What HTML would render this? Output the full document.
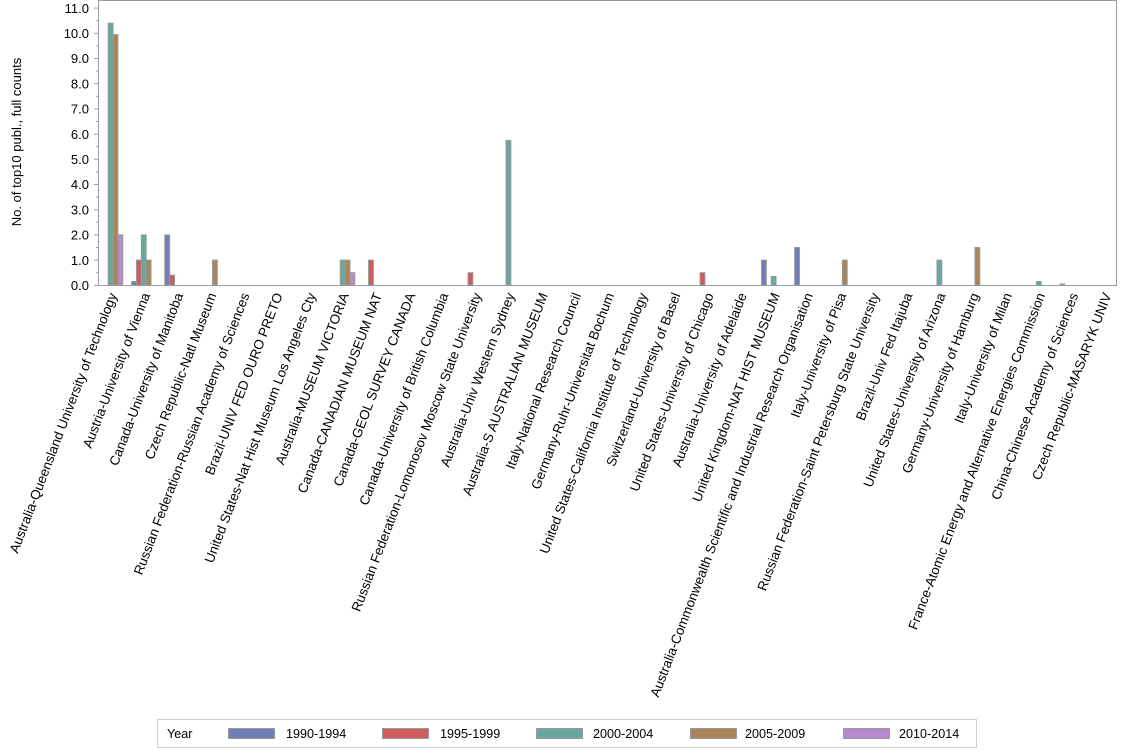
<!DOCTYPE html>
<html><head><meta charset="utf-8"><style>
body{margin:0;background:#fff}
svg{display:block;font-family:"Liberation Sans",Arial,sans-serif}
.t{font-size:13px;fill:#000}
.lg{font-size:12.6px;fill:#000}
.l text{font-size:13.4px;text-anchor:end}
rect.b{stroke:#9a9a9a;stroke-width:1}
</style></head><body>
<svg width="1134" height="756" viewBox="0 0 1134 756">
<rect x="98.5" y="0.5" width="1018" height="285" fill="#fff" stroke="#9a9ea4"/>
<g stroke="#9a9ea4">
<line x1="94" y1="285.3" x2="98.5" y2="285.3"/><line x1="94" y1="260.1" x2="98.5" y2="260.1"/><line x1="94" y1="234.9" x2="98.5" y2="234.9"/><line x1="94" y1="209.7" x2="98.5" y2="209.7"/><line x1="94" y1="184.5" x2="98.5" y2="184.5"/><line x1="94" y1="159.3" x2="98.5" y2="159.3"/><line x1="94" y1="134.1" x2="98.5" y2="134.1"/><line x1="94" y1="108.9" x2="98.5" y2="108.9"/><line x1="94" y1="83.7" x2="98.5" y2="83.7"/><line x1="94" y1="58.5" x2="98.5" y2="58.5"/><line x1="94" y1="33.3" x2="98.5" y2="33.3"/><line x1="94" y1="8.1" x2="98.5" y2="8.1"/>
<line x1="96" y1="272.7" x2="98.5" y2="272.7"/><line x1="96" y1="247.5" x2="98.5" y2="247.5"/><line x1="96" y1="222.3" x2="98.5" y2="222.3"/><line x1="96" y1="197.1" x2="98.5" y2="197.1"/><line x1="96" y1="171.9" x2="98.5" y2="171.9"/><line x1="96" y1="146.7" x2="98.5" y2="146.7"/><line x1="96" y1="121.5" x2="98.5" y2="121.5"/><line x1="96" y1="96.3" x2="98.5" y2="96.3"/><line x1="96" y1="71.1" x2="98.5" y2="71.1"/><line x1="96" y1="45.9" x2="98.5" y2="45.9"/><line x1="96" y1="20.7" x2="98.5" y2="20.7"/>
</g>
<g class="t" text-anchor="end">
<text x="89" y="290">0.0</text><text x="89" y="264.8">1.0</text><text x="89" y="239.6">2.0</text><text x="89" y="214.4">3.0</text><text x="89" y="189.2">4.0</text><text x="89" y="164">5.0</text><text x="89" y="138.8">6.0</text><text x="89" y="113.6">7.0</text><text x="89" y="88.4">8.0</text><text x="89" y="63.2">9.0</text><text x="89" y="38">10.0</text><text x="89" y="12.8">11.0</text>
</g>
<text class="t" transform="translate(21,142) rotate(-90)" text-anchor="middle">No. of top10 publ., full counts</text>
<g>
<rect class="b" x="108.2" y="23.2" width="4.85" height="262.1" fill="#66a8a0"/>
<rect class="b" x="113.05" y="34.6" width="4.85" height="250.7" fill="#a98559"/>
<rect class="b" x="117.9" y="234.9" width="4.85" height="50.4" fill="#b68bd0"/>
<rect class="b" x="131.65" y="281.5" width="4.85" height="3.8" fill="#6f7fb5"/>
<rect class="b" x="136.5" y="260.1" width="4.85" height="25.2" fill="#d05b5b"/>
<rect class="b" x="141.35" y="234.9" width="4.85" height="50.4" fill="#66a8a0"/>
<rect class="b" x="146.2" y="260.1" width="4.85" height="25.2" fill="#a98559"/>
<rect class="b" x="164.8" y="234.9" width="4.85" height="50.4" fill="#6f7fb5"/>
<rect class="b" x="169.65" y="275.2" width="4.85" height="10.1" fill="#d05b5b"/>
<rect class="b" x="212.5" y="260.1" width="4.85" height="25.2" fill="#a98559"/>
<rect class="b" x="340.25" y="260.1" width="4.85" height="25.2" fill="#66a8a0"/>
<rect class="b" x="345.1" y="260.1" width="4.85" height="25.2" fill="#a98559"/>
<rect class="b" x="349.95" y="272.7" width="4.85" height="12.6" fill="#b68bd0"/>
<rect class="b" x="368.55" y="260.1" width="4.85" height="25.2" fill="#d05b5b"/>
<rect class="b" x="468" y="272.7" width="4.85" height="12.6" fill="#d05b5b"/>
<rect class="b" x="506" y="140.4" width="4.85" height="144.9" fill="#66a8a0"/>
<rect class="b" x="700.05" y="272.7" width="4.85" height="12.6" fill="#d05b5b"/>
<rect class="b" x="761.5" y="260.1" width="4.85" height="25.2" fill="#6f7fb5"/>
<rect class="b" x="771.2" y="276.5" width="4.85" height="8.8" fill="#66a8a0"/>
<rect class="b" x="794.65" y="247.5" width="4.85" height="37.8" fill="#6f7fb5"/>
<rect class="b" x="842.35" y="260.1" width="4.85" height="25.2" fill="#a98559"/>
<rect class="b" x="936.95" y="260.1" width="4.85" height="25.2" fill="#66a8a0"/>
<rect class="b" x="974.95" y="247.5" width="4.85" height="37.8" fill="#a98559"/>
<rect class="b" x="1036.4" y="281.5" width="4.85" height="3.8" fill="#66a8a0"/>
<rect class="b" x="1059.85" y="284" width="4.85" height="1.3" fill="#a9a9a9"/>
</g>
<g class="l">
<text transform="translate(117.1,295) rotate(-69)">Australia-Queensland University of Technology</text>
<text transform="translate(150.2,295) rotate(-69)">Austria-University of Vienna</text>
<text transform="translate(183.4,295) rotate(-69)">Canada-University of Manitoba</text>
<text transform="translate(216.5,295) rotate(-69)">Czech Republic-Natl Museum</text>
<text transform="translate(249.7,295) rotate(-69)">Russian Federation-Russian Academy of Sciences</text>
<text transform="translate(282.8,295) rotate(-69)">Brazil-UNIV FED OURO PRETO</text>
<text transform="translate(316,295) rotate(-69)">United States-Nat Hist Museum Los Angeles Cty</text>
<text transform="translate(349.1,295) rotate(-69)">Australia-MUSEUM VICTORIA</text>
<text transform="translate(382.3,295) rotate(-69)">Canada-CANADIAN MUSEUM NAT</text>
<text transform="translate(415.4,295) rotate(-69)">Canada-GEOL SURVEY CANADA</text>
<text transform="translate(448.6,295) rotate(-69)">Canada-University of British Columbia</text>
<text transform="translate(481.7,295) rotate(-69)">Russian Federation-Lomonosov Moscow State University</text>
<text transform="translate(514.9,295) rotate(-69)">Australia-Univ Western Sydney</text>
<text transform="translate(548,295) rotate(-69)">Australia-S AUSTRALIAN MUSEUM</text>
<text transform="translate(581.2,295) rotate(-69)">Italy-National Research Council</text>
<text transform="translate(614.3,295) rotate(-69)">Germany-Ruhr-Universitat Bochum</text>
<text transform="translate(647.5,295) rotate(-69)">United States-California Institute of Technology</text>
<text transform="translate(680.6,295) rotate(-69)">Switzerland-University of Basel</text>
<text transform="translate(713.8,295) rotate(-69)">United States-University of Chicago</text>
<text transform="translate(746.9,295) rotate(-69)">Australia-University of Adelaide</text>
<text transform="translate(780.1,295) rotate(-69)">United Kingdom-NAT HIST MUSEUM</text>
<text transform="translate(813.2,295) rotate(-69)">Australia-Commonwealth Scientific and Industrial Research Organisation</text>
<text transform="translate(846.4,295) rotate(-69)">Italy-University of Pisa</text>
<text transform="translate(879.5,295) rotate(-69)">Russian Federation-Saint Petersburg State University</text>
<text transform="translate(912.7,295) rotate(-69)">Brazil-Univ Fed Itajuba</text>
<text transform="translate(945.8,295) rotate(-69)">United States-University of Arizona</text>
<text transform="translate(979,295) rotate(-69)">Germany-University of Hamburg</text>
<text transform="translate(1012.1,295) rotate(-69)">Italy-University of Milan</text>
<text transform="translate(1045.3,295) rotate(-69)">France-Atomic Energy and Alternative Energies Commission</text>
<text transform="translate(1078.4,295) rotate(-69)">China-Chinese Academy of Sciences</text>
<text transform="translate(1111.6,295) rotate(-69)">Czech Republic-MASARYK UNIV</text>
</g>
<rect x="157.5" y="719.5" width="819" height="28" fill="#fff" stroke="#d0d0d0"/>
<g class="lg">
<text x="167" y="738">Year</text>
<rect class="b" x="228.5" y="728.5" width="46" height="10" fill="#6f7fb5"/><text x="286" y="738">1990-1994</text>
<rect class="b" x="382.5" y="728.5" width="46" height="10" fill="#d05b5b"/><text x="440" y="738">1995-1999</text>
<rect class="b" x="536.5" y="728.5" width="46" height="10" fill="#66a8a0"/><text x="593" y="738">2000-2004</text>
<rect class="b" x="690.5" y="728.5" width="46" height="10" fill="#a98559"/><text x="745" y="738">2005-2009</text>
<rect class="b" x="843.5" y="728.5" width="46" height="10" fill="#b68bd0"/><text x="899" y="738">2010-2014</text>
</g>
</svg>
</body></html>
